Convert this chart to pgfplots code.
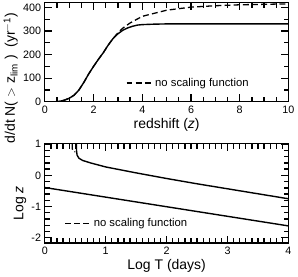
\documentclass[border=0pt]{standalone}
\usepackage{fontspec}
\setmainfont{Liberation Sans}
\usepackage{pgfplots}
\pgfplotsset{compat=1.18}
\pgfplotsset{
  myax/.style={scale only axis, width=226bp, height=92bp,
    axis line style={line width=1.1pt},
    tick label style={font=\fontsize{10}{11}\selectfont},
    label style={font=\fontsize{13}{14}\selectfont},
    /pgf/number format/assume math mode=true,
    legend style={draw=none, fill=none, inner sep=0pt, font=\fontsize{10.5}{11}\selectfont},
    legend cell align=left,
    legend image code/.code={\draw[##1] (0bp,0bp)--(24bp,0bp);},
  },
}
\begin{document}
\begin{tikzpicture}
\begin{axis}[myax, at={(0bp,0bp)}, anchor=north west,
  tick align=inside, major tick length=7bp, minor tick length=4.5bp,
  tick style={line width=1.2pt, black},
  xmin=0, xmax=10, ymin=0, ymax=420,
  xtick={0,2,4,6,8,10}, minor x tick num=3,
  ytick={0,100,200,300,400}, minor y tick num=1,
  xlabel={redshift (\textit{z})},
  ylabel={d/dt N( $>$ z\textsubscript{lim} )\ \ (yr\textsuperscript{$-$1})},
  ylabel style={xshift=-24bp, yshift=-2bp},
  xlabel style={yshift=2bp},
  legend style={at={(axis cs:3.32,80)}, anchor=west},
]
\addplot[line width=1.2pt, dash pattern=on 5.5bp off 3bp] coordinates {
(0,0) (0.4,0) (0.6,2) (0.8,7) (1.0,15) (1.2,28) (1.4,50) (1.6,82) (1.8,118) (2.0,150) (2.2,180) (2.4,208) (2.6,240) (2.8,268) (3.0,292) (3.2,312) (3.5,334) (4.0,362) (4.3,370) (5.0,388) (6.0,401) (7.0,407) (8.0,411) (9,413) (10,415)};
\addlegendentry{no scaling function}
\addplot[line width=1.3pt, forget plot] coordinates {
(0,0) (0.4,0) (0.6,2) (0.8,7) (1.0,15) (1.2,28) (1.4,50) (1.6,82) (1.8,118) (2.0,150) (2.2,180) (2.4,208) (2.6,240) (2.8,268) (3.0,288) (3.2,303) (3.4,313) (3.6,320) (3.8,325) (4.0,327) (4.5,329) (5,330) (6,330) (10,330)};
\end{axis}
\begin{axis}[myax, at={(0bp,-131bp)}, anchor=north west,
  tick align=inside, major tick length=7bp, minor tick length=4.5bp,
  tick style={line width=1.2pt, black},
  xmin=0, xmax=4, ymin=-2.17, ymax=1.01,
  xtick={0,1,2,3,4}, minor x tick num=9,
  ytick={-2,-1,0,1}, minor y tick num=4,
  xlabel={Log T (days)},
  ylabel={Log \textit{z}},
  ylabel style={xshift=-9bp, yshift=-2bp},
  xlabel style={yshift=2bp},
  legend style={at={(axis cs:0.32,-1.54)}, anchor=west},
]
\addplot[line width=1.2pt, dash pattern=on 5.5bp off 3bp] coordinates {
(0.45,1.01) (0.452,0.85) (0.46,0.78) (0.48,0.75) (0.5,0.76)};
\addlegendentry{no scaling function}
\addplot[line width=1.3pt, forget plot] coordinates {
(0.52,1.01) (0.52,0.8) (0.53,0.65) (0.56,0.55) (0.62,0.48) (0.75,0.4) (1.0,0.27) (1.5,0.08) (2,-0.1) (2.5,-0.27) (3,-0.43) (3.5,-0.59) (4,-0.75)};
\addplot[line width=1.3pt, forget plot] coordinates {(0,-0.39) (4,-1.62)};
\end{axis}
\end{tikzpicture}
\end{document}
